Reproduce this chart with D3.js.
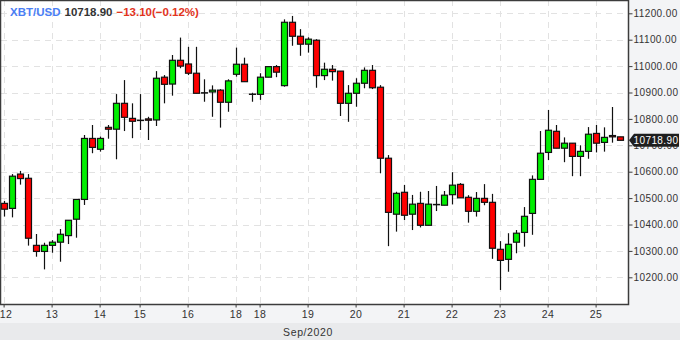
<!DOCTYPE html>
<html>
<head>
<meta charset="utf-8">
<script src="https://cdn.jsdelivr.net/npm/d3@7"></script>
<style>
  html, body { margin: 0; padding: 0; background: #fff; }
  svg { display: block; }
  text { font-family: "Liberation Sans", Arial, sans-serif; }
</style>
</head>
<body>
<svg id="chart" width="680" height="340"></svg>
<script>
// ---- data (4h candles, XBT/USD) ----
const opens  = [10480,10461,10591,10575,10321,10298,10321,10333,10358,10420,10495,10726,10685,10768,10761,10859,10802,10795,10800,10796,
                10958,10932,11022,11008,10973,10899,10902,10909,10863,10969,11007,10894,10893,10958,10998,10926,11166,11113,11083,11098,
                10964,10988,10981,10859,10897,10935,10984,10920,10651,10439,10522,10439,10480,10397,10476,10473,10513,10552,10503,10450,
                10499,10484,10306,10268,10333,10370,10442,10571,10673,10753,10689,10708,10658,10677,10745,10711,10737,10732];
const highs  = [10489,10591,10603,10591,10364,10331,10341,10383,10416,10495,10739,10777,10733,10777,10894,10947,10859,10894,10808,10981,
                10966,11042,11108,11073,11073,10950,10927,10913,10950,11070,11032,10899,10973,10998,11004,11177,11190,11140,11109,11102,
                11013,11004,10981,10928,10954,10995,11004,10928,10663,10524,10550,10512,10524,10527,10546,10527,10598,10557,10511,10523,
                10553,10516,10337,10367,10379,10466,10586,10754,10834,10777,10730,10708,10700,10769,10777,10768,10845,10732];
const lows   = [10430,10427,10551,10320,10278,10230,10293,10259,10326,10350,10474,10670,10676,10725,10647,10754,10727,10758,10720,10773,
                10859,10888,10992,10966,10897,10865,10808,10767,10827,10960,10941,10865,10872,10958,10958,10922,11077,11039,11051,10918,
                10947,10945,10811,10789,10846,10916,10913,10594,10318,10373,10417,10379,10389,10397,10451,10473,10476,10501,10407,10430,
                10473,10270,10152,10221,10291,10316,10361,10571,10644,10689,10636,10583,10583,10649,10673,10676,10710,10718.9];
const closes = [10458,10583,10574,10348,10298,10321,10333,10363,10416,10495,10726,10692,10726,10761,10859,10806,10791,10795,10795,10954,
                10931,11022,11000,10973,10897,10899,10909,10863,10944,11007,10941,10894,10958,10998,10977,11166,11113,11083,11102,10964,
                10988,10979,10859,10897,10935,10984,10918,10651,10446,10518,10435,10477,10397,10477,10476,10511,10549,10501,10450,10499,
                10484,10310,10264,10325,10367,10431,10571,10670,10757,10689,10708,10658,10677,10742,10708,10730,10732,10718.9];
const xTickIndex  = [0, 6, 12, 17, 23, 29, 32, 38, 44, 50, 56, 62, 68, 74];
const xTickLabels = ["12","13","14","15","16","18","18","19","20","21","22","23","24","25"];
const yTicks = [10200,10300,10400,10500,10600,10700,10800,10900,11000,11100,11200];
const symbol = "XBT/USD";
const lastPrice = 10718.90;
const change = -13.10;
const changePct = -0.12;
const axisTitle = "Sep/2020";

// ---- layout ----
const W = 680, H = 340;
const plot = { left: 1, right: 628, top: 0, bottom: 304 };
const svg = d3.select("#chart");
const fontSize = 10, letterSp = 0.4;

const candles = opens.map((o, i) => ({ i, o, h: highs[i], l: lows[i], c: closes[i] }));

const x = d3.scaleLinear().domain([0, 77]).range([3.6, 619.6]);
const y = d3.scaleLinear().domain([10200, 11200]).range([277.3, 13.3]);

// backgrounds
svg.append("rect").attr("x", 0).attr("y", 0).attr("width", W).attr("height", H).attr("fill", "#f3f4f6");
svg.append("rect").attr("x", 0).attr("y", 323).attr("width", W).attr("height", H - 323).attr("fill", "#e9eaec");
svg.append("rect").attr("x", plot.left).attr("y", plot.top)
   .attr("width", plot.right - plot.left).attr("height", plot.bottom - plot.top).attr("fill", "#ffffff");

// grid
const grid = svg.append("g").attr("stroke", "#e2e2e2").attr("stroke-width", 1).attr("stroke-dasharray", "6,5");
grid.selectAll("line.h").data(yTicks).join("line").attr("class", "h")
  .attr("x1", plot.left).attr("x2", plot.right)
  .attr("y1", d => Math.round(y(d)) + 0.5).attr("y2", d => Math.round(y(d)) + 0.5);
grid.selectAll("line.v").data(xTickIndex).join("line").attr("class", "v")
  .attr("y1", plot.top).attr("y2", plot.bottom)
  .attr("x1", d => Math.round(x(d)) + 0.5).attr("x2", d => Math.round(x(d)) + 0.5);

// candles
const bw = 6;
const g = svg.append("g");
g.selectAll("line.wick").data(candles).join("line").attr("class", "wick")
  .attr("x1", d => Math.round(x(d.i)) + 0.5).attr("x2", d => Math.round(x(d.i)) + 0.5)
  .attr("y1", d => y(d.h)).attr("y2", d => y(d.l))
  .attr("stroke", "#111").attr("stroke-width", 1.2);
g.selectAll("rect.body").data(candles).join("rect").attr("class", "body")
  .attr("x", d => Math.round(x(d.i)) + 0.5 - bw / 2)
  .attr("y", d => y(Math.max(d.o, d.c)))
  .attr("width", bw)
  .attr("height", d => Math.max(Math.abs(y(d.o) - y(d.c)), 0.3))
  .attr("fill", d => d.c > d.o ? "#00ee00" : (d.c < d.o ? "#ff0000" : "#111"))
  .attr("stroke", "#111").attr("stroke-width", 1.2);

// frame
svg.append("rect").attr("x", plot.left - 0.5).attr("y", plot.top + 0.5)
  .attr("width", plot.right - plot.left + 1).attr("height", plot.bottom - plot.top)
  .attr("fill", "none").attr("stroke", "#3c3c3c").attr("stroke-width", 1.5);

// right axis
const yAxis = d3.axisRight(y).tickValues(yTicks).tickFormat(d3.format(".2f")).tickSize(4).tickPadding(1);
const ya = svg.append("g").attr("transform", `translate(${plot.right + 0.5},0)`).call(yAxis);
ya.select(".domain").remove();
ya.selectAll(".tick line").attr("stroke", "#3c3c3c");
ya.selectAll(".tick text").attr("fill", "#333").attr("font-size", fontSize).attr("letter-spacing", letterSp)
  .attr("font-family", "Liberation Sans, Arial, sans-serif");

// bottom axis
const xAxis = d3.axisBottom(x).tickValues(xTickIndex).tickFormat((d, k) => xTickLabels[k]).tickSize(3).tickPadding(3);
const xa = svg.append("g").attr("transform", `translate(0,${plot.bottom + 0.5})`).call(xAxis);
xa.select(".domain").remove();
xa.selectAll(".tick line").attr("stroke", "#3c3c3c");
xa.selectAll(".tick text").attr("fill", "#333").attr("font-size", 10.5).attr("letter-spacing", 0.6)
  .attr("font-family", "Liberation Sans, Arial, sans-serif")
  .attr("dx", (d, k) => k === 0 ? 2 : 0);

svg.append("text").attr("x", 308).attr("y", 336).attr("text-anchor", "middle")
  .attr("fill", "#333").attr("font-size", 10.5).attr("letter-spacing", 0.6).text(axisTitle);

// last price tag
const ly = y(lastPrice);
svg.append("path")
  .attr("d", `M${plot.right + 1},${ly} L${plot.right + 6},${ly - 6.5} L${W - 1},${ly - 6.5} L${W - 1},${ly + 6.5} L${plot.right + 6},${ly + 6.5} Z`)
  .attr("fill", "#1e1e1e");
svg.append("text").attr("x", plot.right + 5.5).attr("y", ly + 3.8).attr("fill", "#fff")
  .attr("font-size", fontSize).attr("letter-spacing", letterSp).text(d3.format(".2f")(lastPrice));

// header
const hdr = svg.append("text").attr("x", 10).attr("y", 16).attr("font-size", 11.5).attr("font-weight", "bold");
hdr.append("tspan").attr("fill", "#4a7ef5").text(symbol);
hdr.append("tspan").attr("fill", "#333").attr("dx", 4).text(d3.format(".2f")(lastPrice));
hdr.append("tspan").attr("fill", "#e2341d").attr("dx", 4)
   .text(`${d3.format(".2f")(change)}(${d3.format(".2f")(changePct)}%)`);
</script>
</body>
</html>
